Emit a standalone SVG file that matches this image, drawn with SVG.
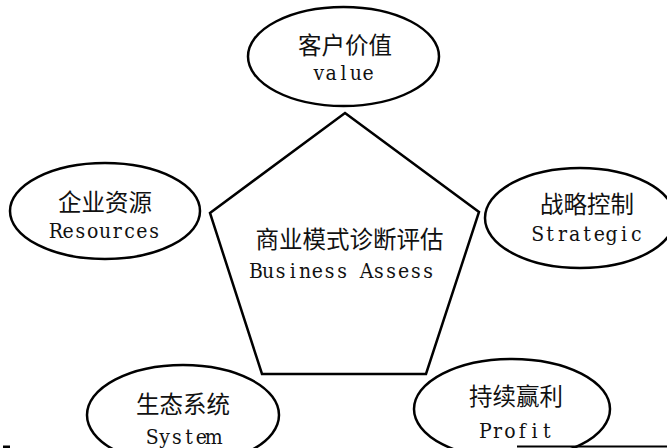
<svg xmlns="http://www.w3.org/2000/svg" width="667" height="448" viewBox="0 0 667 448">
<style>
.shape{fill:#fff;stroke:#000;stroke-width:2.5}
.cn{font-family:"Noto Sans CJK SC","Noto Sans",sans-serif;font-size:23.5px;fill:#111;text-anchor:middle}
.en{font-family:"DejaVu Serif",serif;font-stretch:condensed;font-size:21px;fill:#111;text-anchor:middle}
</style>
<rect width="667" height="448" fill="#fff"/>
<g id="connectors"></g>
<g id="center">
<polygon class="shape" points="345,113 479,212 426,374 262,374 210,213"/>
<text class="cn" x="349.5" y="248">商业模式诊断评估</text>
<text class="en" x="255.9 268.2 280.5 292.8 305.1 317.4 329.7 342 354.3 366.6 378.9 391.2 403.5 415.8 428.1" y="278">Business Assess</text>
</g>
<g id="value">
<ellipse class="shape" cx="343.5" cy="56.5" rx="95.5" ry="49.5"/>
<text class="cn" x="345" y="54">客户价值</text>
<text class="en" x="318.9 331.2 343.5 355.8 368.1" y="80">value</text>
</g>
<g id="resources">
<ellipse class="shape" cx="105" cy="211" rx="95" ry="48"/>
<text class="cn" x="105" y="211">企业资源</text>
<text class="en" x="55.8 68.1 80.4 92.7 105 117.3 129.6 141.9 154.2" y="238">Resources</text>
</g>
<g id="strategic">
<ellipse class="shape" cx="580" cy="218" rx="95" ry="50"/>
<text class="cn" x="587" y="213">战略控制</text>
<text class="en" x="537.8 550.1 562.4 574.7 587 599.3 611.6 623.9 636.2" y="241">Strategic</text>
</g>
<g id="system">
<ellipse class="shape" cx="183" cy="415" rx="96" ry="50"/>
<text class="cn" x="183" y="413">生态系统</text>
<text class="en" x="152.25 164.55 176.85 189.15 201.45 213.75" y="444">System</text>
</g>
<g id="profit">
<ellipse class="shape" cx="512" cy="409" rx="98" ry="50"/>
<text class="cn" x="516" y="405">持续赢利</text>
<text class="en" x="485.25 497.55 509.85 522.15 534.45 546.75" y="438">Profit</text>
</g>
<line x1="517" y1="446.5" x2="667" y2="446.5" stroke="#000" stroke-width="2"/>
<rect x="3" y="445.5" width="7" height="2.5" fill="#000"/>
</svg>
